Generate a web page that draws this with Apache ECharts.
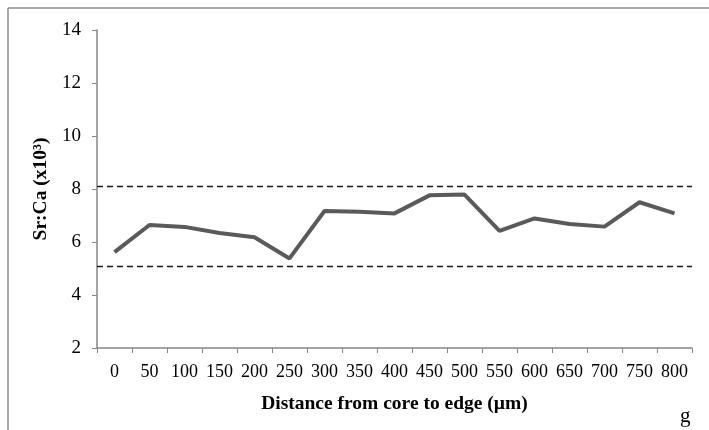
<!DOCTYPE html>
<html>
<head>
<meta charset="utf-8">
<script src="https://cdn.jsdelivr.net/npm/echarts@6/dist/echarts.min.js"></script>
<style>
  html, body { margin: 0; padding: 0; background: #fff; }
  #chart { width: 709px; height: 430px; }
</style>
</head>
<body>
<div id="chart"></div>
<script>
// distance from core (µm)
const distance = ['0', '50', '100', '150', '200', '250', '300', '350', '400',
  '450', '500', '550', '600', '650', '700', '750', '800']
// Sr:Ca (x10^3)
const srCa = [5.62, 6.64, 6.57, 6.34, 6.18, 5.38, 7.17, 7.14, 7.08,
  7.76, 7.79, 6.42, 6.89, 6.68, 6.58, 7.50, 7.08]
// dashed reference levels
const refLevels = [8.1, 5.08]
const yTicks = {min: 2, max: 14, interval: 2}

const serif = '"Liberation Serif", "Times New Roman", serif'
const axisGray = '#868686'

let chart = echarts.init(document.getElementById('chart'))

let option = {
  animation: false,
  grid: {left: 97, right: 17, top: 30, bottom: 82},
  graphic: [
    // outer frame (left + top edges)
    {type: 'line', shape: {x1: 8, y1: 8, x2: 709, y2: 8}, style: {stroke: '#8c8c8c', lineWidth: 1.5}},
    {type: 'line', shape: {x1: 8, y1: 8, x2: 8, y2: 430}, style: {stroke: '#8c8c8c', lineWidth: 1.5}},
    {type: 'text', left: 680, top: 406, style: {text: 'g', font: '21px ' + serif, fill: '#000'}}
  ],
  xAxis: {
    type: 'category',
    data: distance,
    boundaryGap: true,
    name: 'Distance from core to edge (µm)',
    nameLocation: 'middle',
    nameGap: 46,
    nameTextStyle: {fontFamily: serif, fontSize: 19.5, fontWeight: 'bold', color: '#000'},
    axisLine: {lineStyle: {color: axisGray, width: 1.5}},
    axisTick: {show: true, length: 5, lineStyle: {color: axisGray}},
    axisLabel: {fontFamily: serif, fontSize: 18, color: '#000', margin: 15, interval: 0}
  },
  yAxis: {
    type: 'value',
    min: yTicks.min,
    max: yTicks.max,
    interval: yTicks.interval,
    name: 'Sr:Ca (x10³)',
    nameLocation: 'middle',
    nameGap: 43,
    nameTextStyle: {fontFamily: serif, fontSize: 19.5, fontWeight: 'bold', color: '#000'},
    axisLine: {show: true, lineStyle: {color: axisGray, width: 1.5}},
    axisTick: {show: true, length: 5, lineStyle: {color: axisGray}},
    splitLine: {show: false},
    axisLabel: {fontFamily: serif, fontSize: 19, color: '#000', margin: 16}
  },
  series: [{
    type: 'line',
    data: srCa,
    symbol: 'none',
    lineStyle: {color: '#5a5a5a', width: 4},
    markLine: {
      silent: true,
      symbol: 'none',
      label: {show: false},
      lineStyle: {color: '#1a1a1a', type: [6, 4], width: 1.3},
      data: refLevels.map(v => ({yAxis: v}))
    }
  }]
}

chart.setOption(option)
</script>
</body>
</html>
